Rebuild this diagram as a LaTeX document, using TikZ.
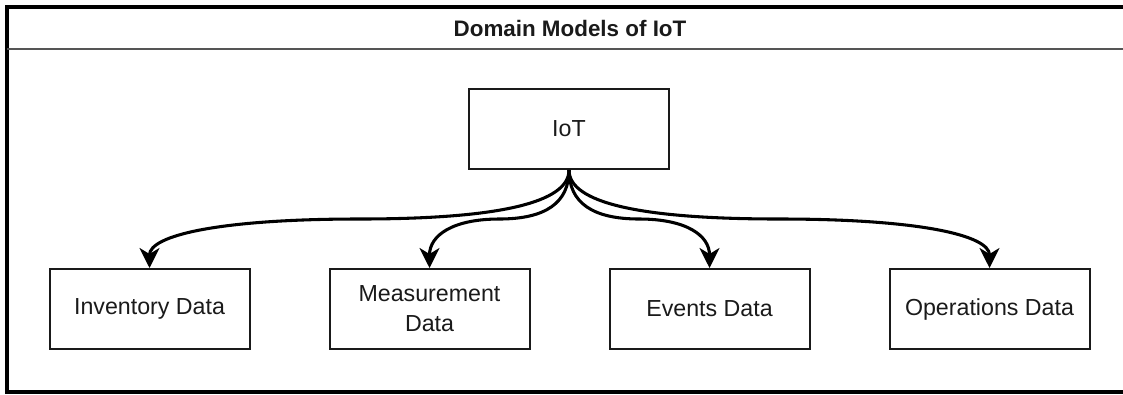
\documentclass[tikz,border=0pt]{standalone}
\usepackage{fontspec}
\setmainfont{Liberation Sans}
\usepackage{tikz}
\usetikzlibrary{calc,arrows.meta}
\definecolor{ink}{HTML}{1A1A1A}
\definecolor{rule}{HTML}{555555}
\tikzset{box/.style={rectangle,draw=ink,line width=1.5pt,fill=white,minimum width=150pt,minimum height=60pt,align=center,text=ink,font=\fontsize{17.4}{22.5}\selectfont},
  edge/.style={black,line width=2.3pt,-{Stealth[length=15pt,width=15pt,inset=4.5pt]}}}

\begin{document}
\begin{tikzpicture}[x=0.75pt,y=-0.75pt]
\useasboundingbox (0,0) rectangle (1123,394);
% outer frame, open on the right
\draw[black,line width=3pt] (1123,7)--(7,7)--(7,392)--(1123,392);
\draw[rule,line width=1.5pt] (7,49)--(1123,49);
\node[text=ink,font=\bfseries\fontsize{16.8}{20}\selectfont] (title) at (570,28) {Domain Models of IoT};
\node[box] (iot) at (569,129) {IoT};
\node[box] (inv) at (149.5,309) {Inventory Data};
\node[box] (meas) at (429.5,309) {Measurement\\Data};
\node[box] (evt) at (709.5,309) {Events Data};
\node[box] (ops) at (989.5,309) {Operations Data};
\foreach \n in {inv,meas,evt,ops}{%
  \coordinate (m) at ($(iot.south)!0.5!(\n.north)$);
  \draw[edge] (iot.south)
    .. controls ($(iot.south)!2/3!(iot.south |- m)$) and ($(m)!2/3!(iot.south |- m)$) .. (m)
    .. controls ($(m)!2/3!(\n.north |- m)$) and ($(\n.north)!2/3!(\n.north |- m)$) .. (\n.north);}
\end{tikzpicture}
\end{document}
